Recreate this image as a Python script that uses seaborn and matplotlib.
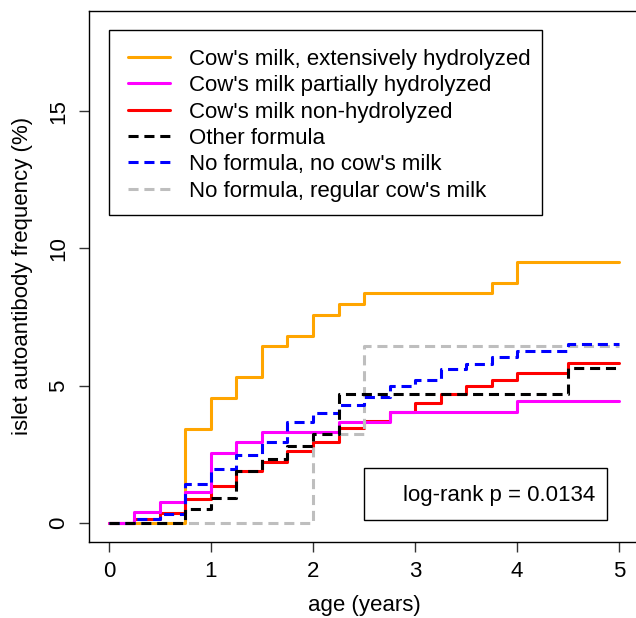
import numpy as np
import pandas as pd
import matplotlib
matplotlib.use("Agg")
import matplotlib.pyplot as plt
from matplotlib.patches import Rectangle
import seaborn as sns

# step curves (age in years, cumulative frequency in %)
orange_t = [0, 0.75, 1.0, 1.25, 1.5, 1.75, 2.0, 2.25, 2.5, 3.75, 4.0, 5.0]
orange_v = [0, 3.41, 4.56, 5.32, 6.45, 6.81, 7.57, 7.97, 8.36, 8.72, 9.49, 9.49]

magenta_t = [0, 0.25, 0.5, 0.75, 1.0, 1.25, 1.5, 2.25, 2.75, 4.0, 5.0]
magenta_v = [0, 0.39, 0.75, 1.12, 2.56, 2.93, 3.29, 3.66, 4.04, 4.43, 4.43]

red_t = [0, 0.25, 0.5, 0.75, 1.0, 1.25, 1.5, 1.75, 2.0, 2.25, 2.5, 2.75,
         3.0, 3.25, 3.5, 3.75, 4.0, 4.25, 4.5, 5.0]
red_v = [0, 0.15, 0.36, 0.86, 1.35, 1.89, 2.22, 2.61, 2.96, 3.46, 3.72, 4.05,
         4.38, 4.69, 4.98, 5.21, 5.44, 5.47, 5.81, 5.81]

black_t = [0, 0.75, 1.0, 1.25, 1.5, 1.75, 2.0, 2.25, 4.5, 5.0]
black_v = [0, 0.49, 0.91, 1.88, 2.32, 2.79, 3.25, 4.71, 5.65, 5.65]

blue_t = [0, 0.25, 0.5, 0.75, 1.0, 1.25, 1.5, 1.75, 2.0, 2.25, 2.5, 2.75,
          3.0, 3.25, 3.5, 3.75, 4.0, 4.5, 5.0]
blue_v = [0, 0.13, 0.32, 1.41, 1.96, 2.47, 2.94, 3.67, 4.0, 4.29, 4.59, 4.99,
          5.20, 5.62, 5.77, 6.05, 6.27, 6.53, 6.53]

grey_t = [0, 2.0, 2.5, 5.0]
grey_v = [0, 3.25, 6.45, 6.45]

labels = ["Cow's milk, extensively hydrolyzed",
          "Cow's milk partially hydrolyzed",
          "Cow's milk non-hydrolyzed",
          "Other formula",
          "No formula, no cow's milk",
          "No formula, regular cow's milk"]

x_ticks = [0, 1, 2, 3, 4, 5]
y_ticks = [0, 5, 10, 15]
p_text = "log-rank p = 0.0134"

sns.set_theme(style="ticks")
plt.rcParams["font.family"] = ["Liberation Sans", "DejaVu Sans"]
plt.rcParams["text.color"] = "black"
plt.rcParams["axes.labelcolor"] = "black"
FS = 16

dash = (0, (3.3, 1.9))
# drawing order (bottom to top) and style of each group
groups = [
    (labels[0], orange_t, orange_v, "#FFA500", "-"),
    (labels[2], red_t, red_v, "#FF0000", "-"),
    (labels[1], magenta_t, magenta_v, "#FF00FF", "-"),
    (labels[5], grey_t, grey_v, "#BEBEBE", dash),
    (labels[4], blue_t, blue_v, "#0000FF", dash),
    (labels[3], black_t, black_v, "#000000", dash),
]

fig = plt.figure(figsize=(6.36, 6.18), dpi=100)
ax = fig.add_axes([0.1392, 0.1230, 0.8663, 0.8597])

handles = {}
for name, t, v, col, ls in groups:
    df = pd.DataFrame({"age": t, "freq": v})
    sns.lineplot(data=df, x="age", y="freq", ax=ax, color=col, linestyle=ls,
                 linewidth=2.2, drawstyle="steps-post", estimator=None,
                 sort=False, legend=False, dash_capstyle="butt")
    handles[name] = ax.lines[-1]

ax.set_xlim(-0.2, 5.2)
ax.set_ylim(-0.70, 18.66)
ax.set_xticks(x_ticks)
ax.set_yticks(y_ticks)
ax.set_xticklabels([str(x) for x in x_ticks])
ax.set_yticklabels([str(y) for y in y_ticks], rotation=90, va="center")
ax.tick_params(direction="out", length=7, width=1, color="#333333",
               labelsize=FS, pad=7, labelcolor="black")
for s in ax.spines.values():
    s.set_color("black")
    s.set_linewidth(1.0)

ax.set_xlabel("age (years)", fontsize=FS, labelpad=9)
ax.set_ylabel("islet autoantibody frequency (%)", fontsize=FS, labelpad=11)

# legend entries without matplotlib's frame; the box is drawn separately
leg = ax.legend([handles[l] for l in labels], labels, loc="upper left",
                bbox_to_anchor=(0.0372, 0.9637), fontsize=FS, frameon=False,
                handlelength=1.9, handletextpad=0.85, labelspacing=0.24,
                borderpad=0.85, borderaxespad=0)
ax.add_patch(Rectangle((0.0372, 0.6155), 0.8232 - 0.0372, 0.9637 - 0.6155,
                       transform=ax.transAxes, facecolor="white",
                       edgecolor="black", linewidth=1.0, zorder=4))
leg.set_zorder(6)

ax.add_patch(Rectangle((0.5001, 0.0414), 0.9412 - 0.5001, 0.1398 - 0.0414,
                       transform=ax.transAxes, fill=False, edgecolor="black",
                       linewidth=1.0, zorder=5))
ax.text(0.9194, 0.0871, p_text, transform=ax.transAxes, ha="right",
        va="center", fontsize=FS)

fig.savefig("out.png", dpi=100)
